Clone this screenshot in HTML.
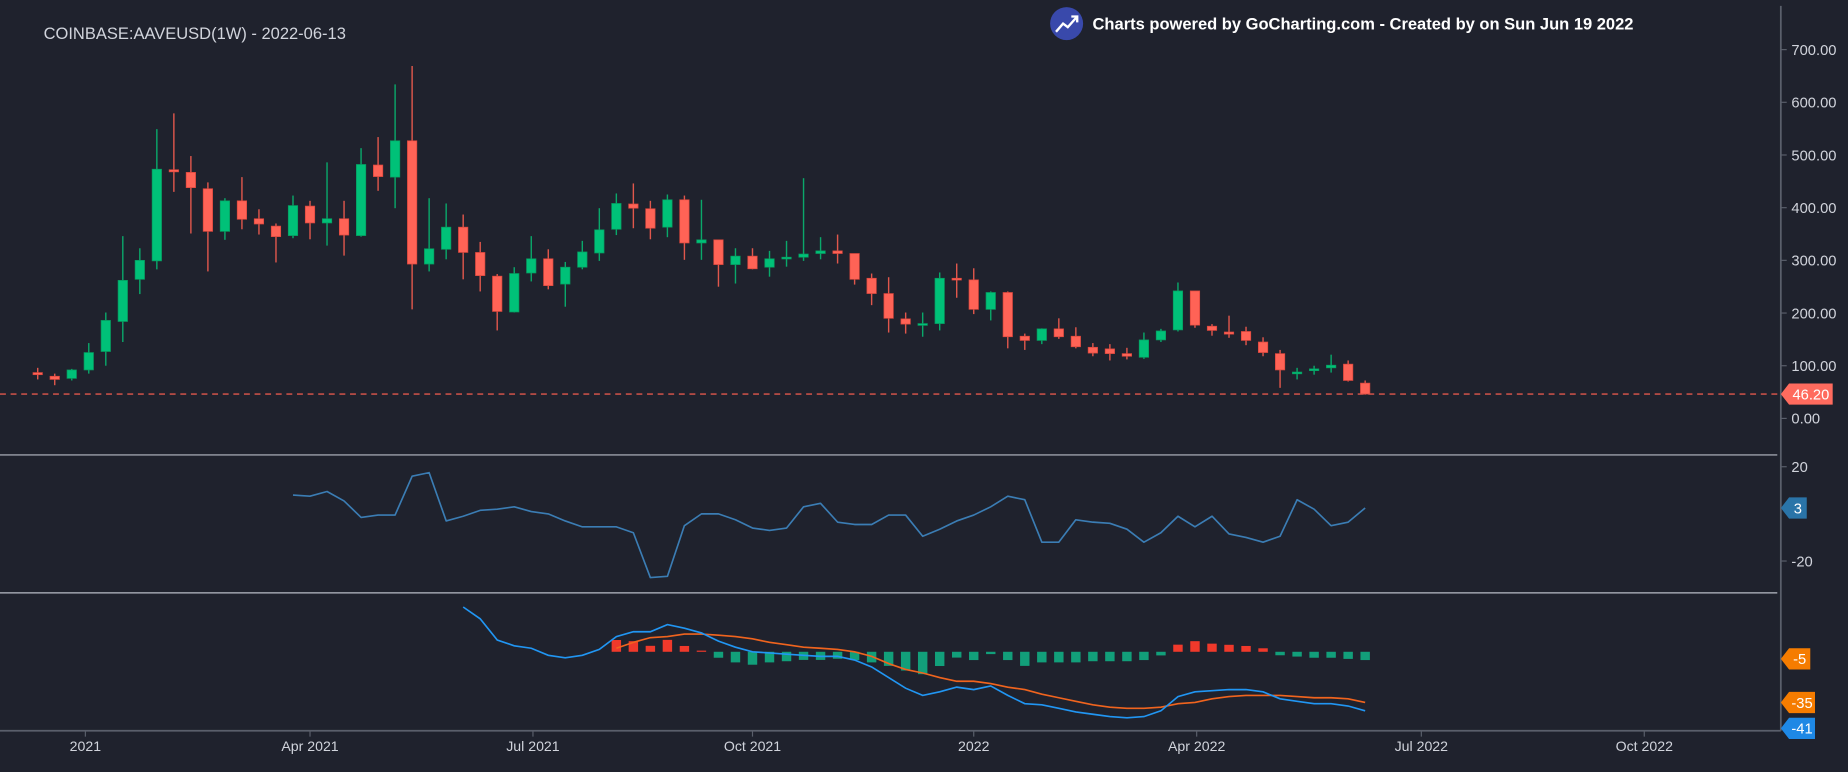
<!DOCTYPE html>
<html><head><meta charset="utf-8"><style>
html,body{margin:0;padding:0;background:#1f222d;}
svg{display:block;font-family:"Liberation Sans",sans-serif;}
</style></head><body>
<svg id="chart" width="1848" height="772" viewBox="0 0 1568 655" preserveAspectRatio="none" xmlns="http://www.w3.org/2000/svg">
<rect x="0" y="0" width="1568" height="655" fill="#1f222d"/>
<text x="37" y="33" fill="#d1d4dc" font-size="14">COINBASE:AAVEUSD(1W) - 2022-06-13</text>
<g>
<circle cx="905" cy="20" r="14" fill="#3949ab"/>
<polyline points="896,27 902,20 906,23 914,14" fill="none" stroke="#fff" stroke-width="2"/>
<polyline points="909,14 914,14 914,19" fill="none" stroke="#fff" stroke-width="2"/>
</g>
<text x="927" y="25" fill="#ffffff" font-size="14" font-weight="bold">Charts powered by GoCharting.com - Created by  on Sun Jun 19 2022</text>
<line x1="1511" y1="5" x2="1511" y2="620" stroke="#5a5f6b" stroke-width="1.5"/>
<line x1="0" y1="620" x2="1511" y2="620" stroke="#5a5f6b" stroke-width="1.5"/>
<line x1="0" y1="386" x2="1508" y2="386" stroke="#b8bcc6" stroke-width="1"/>
<line x1="0" y1="503" x2="1508" y2="503" stroke="#b8bcc6" stroke-width="1"/>
<g id="g-axes"></g>
<g id="g-candles"></g>
<g id="g-rsi"></g>
<g id="g-macd"></g>
<g id="g-labels"></g>
</svg>
<script>
const priceTicks = [0,100,200,300,400,500,600,700];
const rsiTicks = [20,-20];
const dateLabels = ["2021","Apr 2021","Jul 2021","Oct 2021","2022","Apr 2022","Jul 2022","Oct 2022"];
const dateWeeks = [2.8,16.0,29.1,42.0,55.0,68.1,81.3,94.4];
const opens = [87,80,76,92,127,184,264,299,472,467,436,355,413,379,365,347,403,371,379,347,481,458,527,293,321,363,315,270,202,276,303,255,287,314,359,407,398,363,415,333,339,292,308,287,304,306,313,318,313,266,237,189,177,180,266,263,207,239,156,148,170,156,135,132,123,116,149,168,242,175,164,165,145,123,86,92,96,103,67];
const highs = [96,85,94,143,201,346,323,549,579,498,448,418,458,397,370,423,413,486,413,513,534,634,669,418,408,387,335,274,287,346,321,297,337,399,427,446,413,425,423,415,339,323,323,318,337,456,344,349,313,275,268,201,201,277,294,285,241,241,161,171,190,173,143,141,134,163,170,258,242,179,195,174,154,130,96,100,121,110,72];
const lows = [74,63,72,85,100,145,236,283,430,351,279,339,359,349,296,342,340,328,309,345,432,399,207,279,302,264,241,167,201,260,245,212,283,299,348,361,340,344,301,301,250,256,283,269,288,299,302,294,254,215,163,161,155,167,229,198,186,133,130,141,151,133,118,110,112,113,145,165,172,157,153,139,118,58,74,83,87,70,45];
const closes = [83,74,92,125,186,262,300,473,468,438,355,413,378,369,345,404,371,379,348,482,459,527,293,322,363,315,271,203,275,303,252,287,316,358,408,399,361,415,333,339,292,308,284,303,306,312,318,313,264,237,190,179,180,266,264,207,239,155,148,170,155,136,124,123,118,149,166,242,177,167,160,148,125,92,88,94,101,72,46.2];
const rsiStart = 15;
const rsiValues = [8,7.5,9.5,5.5,-1.5,-0.5,-0.5,16,17.5,-3,-1,1.5,2,3,1,0,-3,-5.5,-5.5,-5.5,-8,-27,-26.5,-5,0,0,-2.5,-6,-7,-6,3,4.5,-3.5,-4.5,-4.5,-0.5,-0.5,-9.5,-6.5,-3,-0.5,3,7.5,6,-12,-12,-2.5,-3.5,-4,-6.5,-12,-8,-1,-5.5,-1,-8.5,-10,-12,-9.5,6,2,-5,-3.5,2.5];
const macdStart = 25;
const macdValues = [30.8,22.7,8.1,4.1,2.4,-2.4,-4.1,-2.4,1.6,10.5,13.8,13.8,18.7,16.2,13,7.3,3.2,0,-0.8,-1.6,-2.4,-3.2,-3.2,-5.7,-10.5,-17.8,-25.1,-30,-27.6,-24.3,-26,-23.5,-30,-35.7,-36.5,-38.9,-41.4,-43,-44.6,-45.4,-44.6,-40.6,-30.8,-27.6,-26.8,-26,-26,-27.6,-32.4,-34.1,-35.7,-35.7,-37.3,-40.6];
const signalStart = 34;
const signalValues = [2.4,6.5,9.7,10.5,12.2,12.2,11.4,10.5,8.9,6.5,4.9,3.2,2.4,1.6,0,-3.2,-8.1,-12.2,-14.6,-17.8,-20.3,-20.3,-21.9,-24.3,-26,-29.2,-31.6,-34.1,-36.5,-38.1,-38.9,-38.9,-38.1,-35.7,-34.9,-32.4,-30.8,-30,-30,-30,-30.8,-31.6,-31.6,-32.4,-34.9];

const NS = "http://www.w3.org/2000/svg";
function xW(i){ return 32 + i*14.44; }
function yP(p){ return 355 - 0.447*p; }
function yR(v){ return 436 - 2*v; }
function yM(v){ return 553 - 1.233*v; }
function mk(tag, attrs, parent){ const e=document.createElementNS(NS,tag); for(const k in attrs) e.setAttribute(k,attrs[k]); parent.appendChild(e); return e; }

const gA = document.getElementById('g-axes');
priceTicks.forEach(t=>{
  const y=yP(t);
  const tk=mk('line',{x1:1511,y1:y,x2:1516,y2:y,stroke:'#5a5f6b'},gA);
  
  
  const tx=mk('text',{x:1520,y:y+4.5,fill:'#d1d4dc','font-size':12.5},gA);
  
  
  tx.textContent=t.toFixed(2);
});
rsiTicks.forEach(t=>{
  const y=yR(t);
  const tk=mk('line',{x1:1511,y1:y,x2:1516,y2:y,stroke:'#5a5f6b'},gA);
  
  
  const tx=mk('text',{x:1520,y:y+4.5,fill:'#d1d4dc','font-size':12.5},gA);
  
  
  tx.textContent=String(t);
});
dateLabels.forEach((d,k)=>{
  const x=xW(dateWeeks[k]);
  const tk=mk('line',{x1:x,y1:620,x2:x,y2:625,stroke:'#5a5f6b'},gA);
  
  
  const tx=mk('text',{x:x,y:637,fill:'#d1d4dc','font-size':12,'text-anchor':'middle'},gA);
  
  
  tx.textContent=d;
});

const gC = document.getElementById('g-candles');
opens.forEach((o,i)=>{
  const c=closes[i], up=c>=o, col=up?'#00c178':'#ff6356', x=xW(i);
  const w=mk('line',{x1:x,y1:yP(highs[i]),x2:x,y2:yP(lows[i]),stroke:up?'#0aa86a':'#e0574c','stroke-width':1.2},gC);
  
  
  const top=yP(Math.max(o,c)), bot=yP(Math.min(o,c));
  const b=mk('rect',{x:x-4,y:top,width:8,height:Math.max(1.5,bot-top),fill:col,stroke:up?'#079a5f':'#d9463c','stroke-width':0.6},gC);
  
  
});

const last=closes[closes.length-1];
const dl=mk('line',{x1:0,y1:yP(last),x2:1511,y2:yP(last),stroke:'#e0574c','stroke-dasharray':'5 4','stroke-width':1.2},gC);



const gR = document.getElementById('g-rsi');
const rp = mk('path',{d:rsiValues.map((v,k)=>(k?'L':'M')+xW(rsiStart+k).toFixed(1)+','+yR(v).toFixed(1)).join(''),fill:'none',stroke:'#3b7db4','stroke-width':1.4,'stroke-linejoin':'round'},gR);



const gM = document.getElementById('g-macd');
signalValues.forEach((s,k)=>{
  const i=signalStart+k, m=macdValues[i-macdStart], h=m-s;
  const y0=yM(0), y1=yM(h);
  const r=mk('rect',{x:xW(i)-4,y:Math.min(y0,y1),width:8,height:Math.max(1,Math.abs(y1-y0)),fill:h>=0?'#f0392b':'#129f7a'},gM);
  
  
});
const sp = mk('path',{d:signalValues.map((v,k)=>(k?'L':'M')+xW(signalStart+k).toFixed(1)+','+yM(v).toFixed(1)).join(''),fill:'none',stroke:'#f0641e','stroke-width':1.4},gM);


const mp = mk('path',{d:macdValues.map((v,k)=>(k?'L':'M')+xW(macdStart+k).toFixed(1)+','+yM(v).toFixed(1)).join(''),fill:'none',stroke:'#2196f3','stroke-width':1.4},gM);



const gL = document.getElementById('g-labels');
function tag(y,text,col,w,name){
  const g=mk('g',{},gL);
  
  
  mk('path',{d:`M1511,${y} L1518,${y-9} L${1518+w},${y-9} L${1518+w},${y+9} L1518,${y+9} Z`,fill:col},g);
  const t=mk('text',{x:1518+w/2,y:y+4.5,fill:'#fff','font-size':12.5,'text-anchor':'middle'},g);
  t.textContent=text;
}
tag(yP(last),last.toFixed(2),'#ff6b5e',37,'last-price-label');
tag(yR(rsiValues[rsiValues.length-1]),String(Math.round(rsiValues[rsiValues.length-1])),'#2a74a8',15,'rsi-value-label');
const lastM=macdValues[macdValues.length-1], lastS=signalValues[signalValues.length-1];
tag(559,String(Math.trunc(lastM-lastS)),'#f57c00',18,'histogram-value-label');
tag(596,String(Math.round(lastS)),'#f57c00',22,'signal-value-label');
tag(618,String(Math.round(lastM)),'#1e88e5',22,'macd-value-label');
</script>
</body></html>
